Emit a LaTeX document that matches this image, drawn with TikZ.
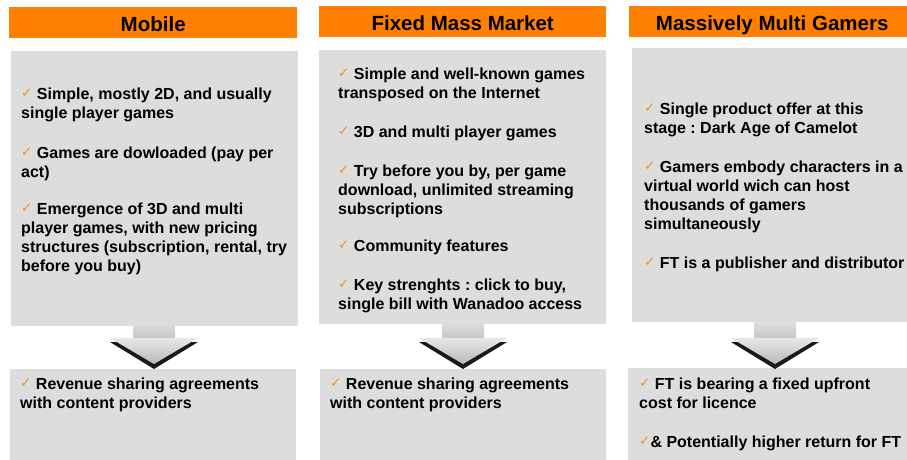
\documentclass[tikz,border=0pt]{standalone}
\usepackage{fontspec}
\setmainfont{Liberation Sans}
\newfontfamily\symbolfont{DejaVu Sans}
\definecolor{hdr}{HTML}{FF7F00}
\definecolor{panelgray}{HTML}{DDDDDD}
\definecolor{tick}{HTML}{FF8C1A}
% orange tick in front of each point
\newcommand\chk{{\symbolfont\bfseries\fontsize{13.5}{13.5}\selectfont\color{tick}\raisebox{1.5pt}{✓}}}
% a block of lines whose baseline is that of its first line
\newcommand\para[1]{\begin{tabular}[t]{@{}l@{}}#1\end{tabular}}
\frenchspacing

\begin{document}
\begin{tikzpicture}[x=1pt,y=-1pt,
  header/.style={fill=hdr, draw=none, anchor=north west, inner sep=0,
    text height=20, text depth=1.6,
    font=\bfseries\fontsize{20.5}{24}\selectfont},
  panel/.style={fill=panelgray, draw=none, anchor=north west, inner sep=0},
  body/.style={font=\bfseries\fontsize{16}{19.3}\selectfont,
    inner sep=0, anchor=base west},
  pics/flowarrow/.style={code={
    % stem
    \shade[top color=gray!22, bottom color=gray!45] (-21,-50) rectangle (21,-30);
    % dark rim under the head
    \fill[black!90] (-44,-27) -- (44,-27) -- (0,0) -- cycle;
    % head
    \shade[top color=gray!18, bottom color=gray!55] (-44,-31) -- (44,-31) -- (0,-5) -- cycle;
  }},
]
\useasboundingbox (0,0) rectangle (907,460);

% column headers
\node[header, minimum width=288, minimum height=31] (h1) at (9,7) {Mobile};
\node[header, minimum width=287, minimum height=31] (h2) at (319,6) {Fixed Mass Market};
\node[header, minimum width=286, minimum height=31] (h3) at (629,6) {Massively Multi Gamers};

% lower panels
\node[panel, minimum width=286, minimum height=92] (b1) at (10,369) {};
\node[panel, minimum width=286, minimum height=92] (b2) at (320,369) {};
\node[panel, minimum width=280, minimum height=93] (b3) at (628,368) {};

% arrows between upper and lower panels
\pic at (154,369) {flowarrow};
\pic at (463,369) {flowarrow};
\pic at (775,369) {flowarrow};

% upper panels
\node[panel, minimum width=287, minimum height=275] (p1) at (11,51) {};
\node[panel, minimum width=287, minimum height=274] (p2) at (319,50) {};
\node[panel, minimum width=276, minimum height=274] (p3) at (632,48) {};

% Mobile
\node[body] (m1) at (21,99) {\para{\chk{} Simple, mostly 2D, and usually\\single player games}};
\node[body] (m2) at (21,158) {\para{\chk{} Games are dowloaded (pay per\\act)}};
\node[body] (m3) at (21,214) {\para{\chk{} Emergence of 3D and multi\\player games, with new pricing\\structures (subscription, rental, try\\before you buy)}};
\node[body] (m4) at (20,389) {\para{\chk{} Revenue sharing agreements\\with content providers}};

% Fixed Mass Market
\node[body] (f1) at (338,79) {\para{\chk{} Simple and well-known games\\transposed on the Internet}};
\node[body] (f2) at (338,137) {\para{\chk{} 3D and multi player games}};
\node[body] (f3) at (338,176) {\para{\chk{} Try before you by, per game\\download, unlimited streaming\\subscriptions}};
\node[body] (f4) at (338,251) {\para{\chk{} Community features}};
\node[body] (f5) at (338,290) {\para{\chk{} Key strenghts : click to buy,\\single bill with Wanadoo access}};
\node[body] (f6) at (330,389) {\para{\chk{} Revenue sharing agreements\\with content providers}};

% Massively Multi Gamers
\node[body] (g1) at (644,114) {\para{\chk{} Single product offer at this\\stage : Dark Age of Camelot}};
\node[body] (g2) at (644,172) {\para{\chk{} Gamers embody characters in a\\virtual world wich can host\\thousands of gamers\\simultaneously}};
\node[body] (g3) at (644,268) {\para{\chk{} FT is a publisher and distributor}};
\node[body] (g4) at (639,389) {\para{\chk{} FT is bearing a fixed upfront\\cost for licence}};
\node[body] (g5) at (639,447) {\para{\chk{}\& Potentially higher return for FT}};
\end{tikzpicture}
\end{document}
